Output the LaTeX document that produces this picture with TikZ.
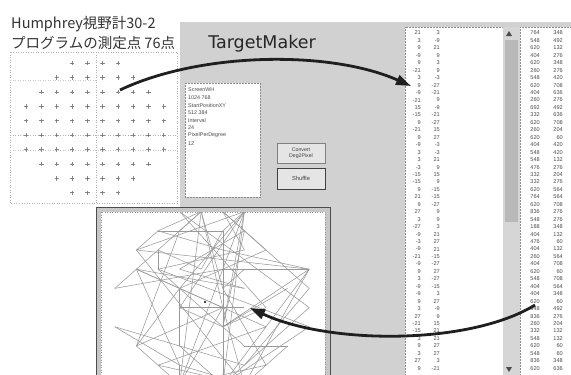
\documentclass[tikz,border=0pt]{standalone}
\usepackage{fontspec}
\setmainfont{Liberation Sans}
\newfontfamily\jpfont{Noto Sans CJK JP}
\newfontfamily\dvfont{DejaVu Sans}
\usetikzlibrary{arrows.meta}

\begin{document}
\begin{tikzpicture}[x=1pt,y=-1pt,
  dlgbg/.style={fill=black!18},
  listbox/.style={fill=white,draw=black!45,densely dotted,line width=0.5pt},
  numtext/.style={font=\fontsize{5.6}{6}\selectfont,text=black!70,inner sep=0pt,anchor=east},
  boxtext/.style={font=\fontsize{5.4}{6}\selectfont,text=black!70,inner sep=0pt,anchor=west},
  btn/.style={fill=black!10,draw=black!50,line width=0.6pt},
  btnfocus/.style={fill=black!10,draw=black!75,line width=1pt},
  btntext/.style={font=\fontsize{5.2}{5.8}\selectfont,text=black!75,align=center,inner sep=0pt},
  fieldmark/.style={draw=black!45,line width=0.8pt},
  guide/.style={draw=black!30,dotted,line width=0.5pt},
  pathline/.style={draw=black!40,line width=0.55pt},
  bigarrow/.style={draw=black!88,line width=2.8pt,-{Triangle[length=15pt,width=10pt]}},
  title/.style={font=\jpfont\fontsize{14.5}{15}\selectfont,text=black!80,inner sep=0pt,anchor=west}]

\useasboundingbox (0,0) rectangle (571,375);
\fill[white] (0,0) rectangle (571,375);

% ---------- application window background ----------
\fill[dlgbg] (180,22) rectangle (571,375);

% ---------- caption ----------
\node[title] (cap1) at (11,24) {Humphrey視野計30-2};
\node[title] (cap2) at (11,43) {プログラムの測定点 76点};
\node[font=\dvfont\fontsize{17.5}{18}\selectfont,text=black!85,inner sep=0pt] (appname) at (262,44) {TargetMaker};

% ---------- 30-2 test point layout ----------
\fill[white] (10,52) rectangle (177,203);
\draw[guide] (10,52) rectangle (177,203);
\draw[guide] (96,52) -- (96,203);
\draw[guide] (10,135) -- (177,135);
\draw[guide,black!22] (10,80) -- (96,80);
\draw[guide,black!22] (10,150) -- (177,150);
\foreach \rowi in {0,...,9}{
  \pgfmathtruncatemacro{\nm}{9-2*max(0,abs(\rowi-4.5)-1.5)}
  \foreach \coli in {0,...,\nm}{
    \pgfmathsetmacro{\px}{95+2.55*(-3*\nm+6*\coli)}
    \pgfmathsetmacro{\py}{128-2.4*(27-6*\rowi)}
    \draw[fieldmark] (\px-2.2,\py) -- (\px+2.2,\py) (\px,\py-2.2) -- (\px,\py+2.2);
    \fill[black!60] (\px,\py) circle (0.6);
  }
}

% ---------- parameter text box ----------
\draw[listbox] (185,83) rectangle (260,197);
\foreach \t [count=\k from 0] in {ScreenWH,1024 768,StartPositionXY,512 384,Interval,24,PixelPerDegree,12}{
  \node[boxtext] (par\k) at (188,90+7.6*\k) {\t};
}

% ---------- buttons ----------
\draw[btn] (277,143) rectangle (325,163);
\node[btntext] (convert) at (301,153) {Convert\\Deg2Pixel};
\draw[btnfocus] (277,168) rectangle (325,189);
\node[btntext,font=\fontsize{5.8}{6}\selectfont] (shuffle) at (301,178.5) {Shuffle};

% ---------- degree list with scroll bar ----------
\draw[listbox] (405,27) rectangle (503,378);
\fill[black!16] (503,27) rectangle (520,375);
\fill[black!28] (505,40) rectangle (518,222);
\fill[black!70] (509,31) -- (506,36) -- (512,36) -- cycle;
\fill[black!70] (509,372) -- (506,367) -- (512,367) -- cycle;

% ---------- pixel list ----------
\draw[listbox] (520,27) rectangle (575,378);

\pgfmathsetseed{2024}
\foreach \i in {1,...,46}{
  \pgfmathrandominteger{\rowi}{0}{9}
  \pgfmathtruncatemacro{\nm}{9-2*max(0,abs(\rowi-4.5)-1.5)}
  \pgfmathrandominteger{\coli}{0}{\nm}
  \pgfmathtruncatemacro{\dx}{-3*\nm+6*\coli}
  \pgfmathtruncatemacro{\dy}{27-6*\rowi}
  \pgfmathtruncatemacro{\ux}{512+12*\dx}
  \pgfmathtruncatemacro{\uy}{384-12*\dy}
  \pgfmathsetmacro{\ly}{33+7.45*(\i-1)}
  \node[numtext] (degx\i) at (421,\ly) {\dx};
  \node[numtext] (degy\i) at (440,\ly) {\dy};
  \node[numtext] (pixx\i) at (540,\ly) {\ux};
  \node[numtext] (pixy\i) at (563,\ly) {\uy};
}

% ---------- plot window with shuffled path ----------
\fill[black!22] (96,207) rectangle (331,380);
\draw[black!70,line width=1.3pt] (96.5,207.5) rectangle (330.5,380);
\fill[white] (101,212) rectangle (325,380);
\draw[guide,black!40] (101,212) rectangle (325,380);
\begin{scope}
  \clip (101,212) rectangle (325,375);
  \pgfmathsetseed{2024}
  \foreach \i in {1,...,76}{
    \pgfmathrandominteger{\rowi}{0}{9}
    \pgfmathtruncatemacro{\nm}{9-2*max(0,abs(\rowi-4.5)-1.5)}
    \pgfmathrandominteger{\coli}{0}{\nm}
    \pgfmathsetmacro{\qx}{212+3.6*(-3*\nm+6*\coli)}
    \pgfmathsetmacro{\qy}{298-3.2*(27-6*\rowi)}
    \ifnum\i>1 \draw[pathline] (\lastx,\lasty) -- (\qx,\qy); \fi
    \xdef\lastx{\qx}\xdef\lasty{\qy}
  }
  \fill[black] (205,302) circle (1.1);
\end{scope}

% ---------- flow arrows ----------
\coordinate (fieldsrc) at (120,90);
\coordinate (listdst) at (411,86);
\coordinate (pixsrc) at (535,305);
\coordinate (plotdst) at (250,308);
\draw[bigarrow] (fieldsrc) .. controls (200,52) and (330,50) .. (listdst);
\draw[bigarrow] (pixsrc) .. controls (470,345) and (330,345) .. (plotdst);
\end{tikzpicture}
\end{document}
